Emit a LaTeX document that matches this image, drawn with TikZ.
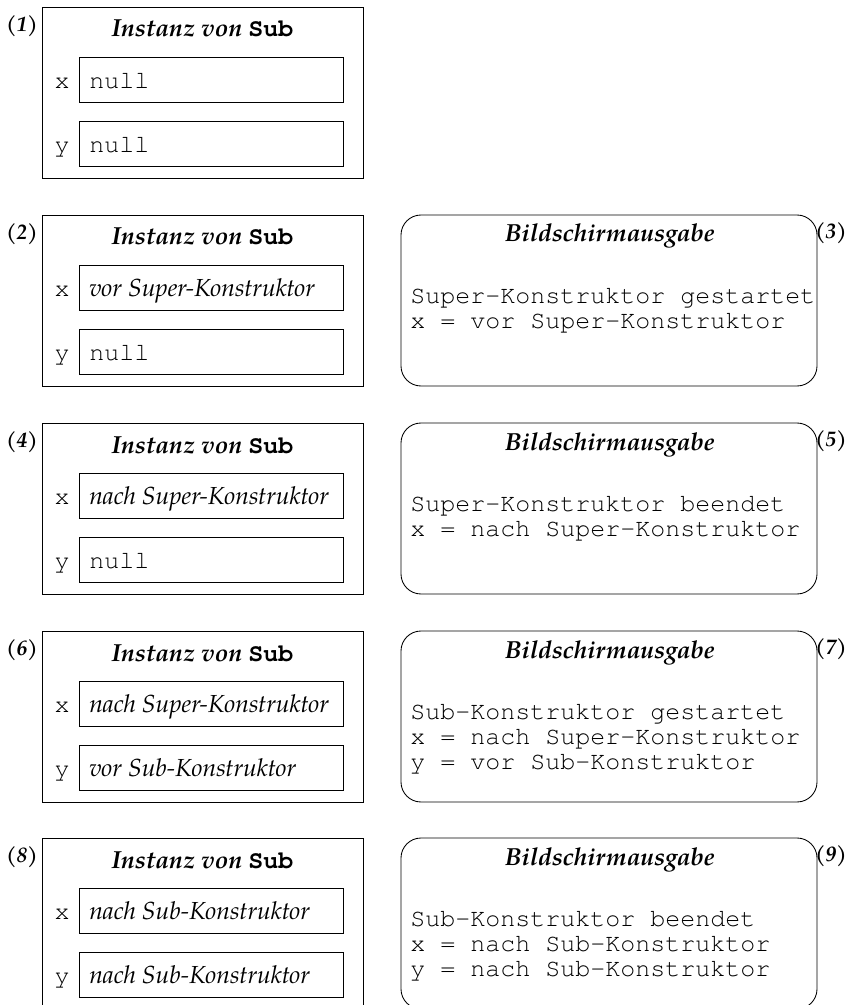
\documentclass[tikz,border=0pt]{standalone}
\usepackage{fontspec}
\setmainfont{TeX Gyre Pagella}
\setmonofont{TeX Gyre Cursor}
\newcommand\serifsize{\fontsize{18.5pt}{22pt}\selectfont}
\newcommand\lblsize{\fontsize{16pt}{19pt}\selectfont}
\newcommand\monosize{\fontsize{18.75pt}{18.75pt}\selectfont}
\tikzset{
  outer/.style={draw, line width=0.65pt, minimum width=240.75pt, minimum height=128.25pt, inner sep=0pt},
  slot/.style={draw, line width=0.6pt, minimum width=198pt, minimum height=33.75pt, inner sep=0pt, anchor=west},
  screen/.style={draw, line width=0.65pt, rounded corners=15pt, minimum width=312pt, minimum height=128.25pt, inner sep=0pt},
  ttl/.style={font=\serifsize\bfseries\itshape, inner sep=0pt, anchor=base},
  lbl/.style={font=\lblsize\bfseries\itshape, inner sep=0pt},
  val/.style={font=\serifsize\itshape, inner sep=0pt, anchor=base west},
  mono/.style={font=\monosize\ttfamily, inner sep=0pt, anchor=base west},
}
% #1 name, #2 top, #3 number, #4 x content, #5 y content
\newcommand\leftpanel[5]{%
  \node[outer] (#1) at (202.5,{#2+85.5}) {};
  \node[ttl] (#1t) at (202.5,{#2+30}) {Instanz von {\monosize\ttfamily\upshape\bfseries Sub}};
  \node[lbl] (#1n) at (22,{#2+19}) {(#3)};
  \node[slot] (#1x) at (79,{#2+72.5}) {};
  \node[slot] (#1y) at (79,{#2+136.5}) {};
  \node[mono, anchor=base] (#1xl) at (62,{#2+81.5}) {x};
  \node[mono, anchor=base] (#1yl) at (62,{#2+145.5}) {y};
  \node[val] (#1xv) at (89,{#2+81.5}) {#4};
  \node[val] (#1yv) at (89,{#2+145.5}) {#5};
}
% #1 name, #2 top, #3 number
\newcommand\rightpanel[3]{%
  \node[screen] (#1) at (609,{#2+85.5}) {};
  \node[ttl] (#1t) at (610,{#2+27}) {Bildschirmausgabe};
  \node[lbl, anchor=east] (#1n) at (847,{#2+18}) {(#3)};
}
\newcommand\nul{{\monosize\ttfamily\upshape\mdseries null}}
\begin{document}
\begin{tikzpicture}[x=0.75pt,y=-0.75pt]
\useasboundingbox (0,0) rectangle (848,1005);
\clip (0,0) rectangle (848,1005);

\leftpanel{p1}{7}{1}{\nul}{\nul}

\leftpanel{p2}{215}{2}{vor Super-Konstruktor}{\nul}
\rightpanel{p3}{215}{3}
\node[mono] (p3a) at (410,{215+88}) {Super-Konstruktor gestartet};
\node[mono] (p3b) at (410,{215+113}) {x = vor Super-Konstruktor};

\leftpanel{p4}{423}{4}{nach Super-Konstruktor}{\nul}
\rightpanel{p5}{423}{5}
\node[mono] (p5a) at (410,{423+88}) {Super-Konstruktor beendet};
\node[mono] (p5b) at (410,{423+113}) {x = nach Super-Konstruktor};

\leftpanel{p6}{631}{6}{nach Super-Konstruktor}{vor Sub-Konstruktor}
\rightpanel{p7}{631}{7}
\node[mono] (p7a) at (410,{631+88}) {Sub-Konstruktor gestartet};
\node[mono] (p7b) at (410,{631+113}) {x = nach Super-Konstruktor};
\node[mono] (p7c) at (410,{631+138}) {y = vor Sub-Konstruktor};

\leftpanel{p8}{838}{8}{nach Sub-Konstruktor}{nach Sub-Konstruktor}
\rightpanel{p9}{838}{9}
\node[mono] (p9a) at (410,{838+88}) {Sub-Konstruktor beendet};
\node[mono] (p9b) at (410,{838+113}) {x = nach Sub-Konstruktor};
\node[mono] (p9c) at (410,{838+138}) {y = nach Sub-Konstruktor};
\end{tikzpicture}
\end{document}
